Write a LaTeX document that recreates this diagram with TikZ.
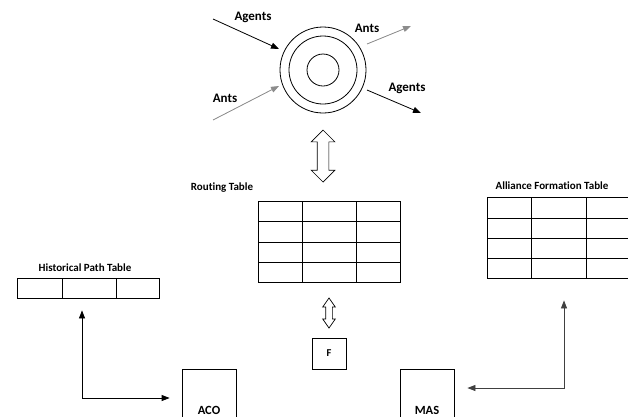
\documentclass[tikz,border=0pt]{standalone}
\usepackage{fontspec}
\setmainfont[Ligatures=NoCommon]{Carlito}
\usetikzlibrary{arrows.meta,shapes.arrows}
\begin{document}
\begin{tikzpicture}[x=1pt,y=-1pt,line width=0.8pt,
	lbl/.style={font=\bfseries\fontsize{13}{15}\selectfont,inner sep=0pt},
	tlbl/.style={font=\bfseries\fontsize{11}{13}\selectfont,inner sep=0pt},
	box/.style={draw,inner sep=0pt,font=\bfseries\fontsize{12.5}{14}\selectfont},
	arr/.style={-{Triangle[length=8pt,width=6pt]}},
	darr/.style={{Triangle[length=8pt,width=6pt]}-{Triangle[length=8pt,width=6pt]}},
	dblarr/.style={draw,double arrow,rotate=90,line width=0.7pt,double arrow head indent=0pt}]
	\useasboundingbox (0,0) rectangle (628,416);
	\def\grycol{black!45}
	% rings
	\node[circle,draw,minimum size=86pt,inner sep=0pt] (outer) at (323,70) {};
	\node[circle,draw,minimum size=68pt,inner sep=0pt] (mid) at (323,70) {};
	\node[circle,draw,minimum size=32pt,inner sep=0pt] (inner) at (323,70) {};
	\coordinate (agA) at (213,19);  \coordinate (agB) at (279,49);
	\coordinate (anA) at (213,120); \coordinate (anB) at (279,86);
	\coordinate (anC) at (367,44);  \coordinate (anD) at (411,26);
	\coordinate (agC) at (367,90);  \coordinate (agD) at (421,113);
	\draw[arr] (agA) -- (agB);
	\draw[arr,draw=\grycol,fill=\grycol] (anA) -- (anB);
	\draw[arr,draw=\grycol,fill=\grycol] (anC) -- (anD);
	\draw[arr] (agC) -- (agD);
	\node[lbl] at (253,17) {Agents};
	\node[lbl] at (367,28) {Ants};
	\node[lbl] at (407,88) {Agents};
	\node[lbl] at (225,98) {Ants};
	% routing table
	\node[dblarr,minimum height=52pt,inner sep=5.5pt,double arrow head extend=6pt] (bigarr) at (323,156) {};
	\node[tlbl] at (222,188) {Routing Table};
	\node[box,minimum width=142pt,minimum height=81pt] (rt) at (329,241.5) {};
	\foreach \x in {302,356} \draw (\x,201) -- (\x,282);
	\foreach \y in {221,242,262} \draw (258,\y) -- (400,\y);
	% alliance formation table
	\node[tlbl] at (552,186) {Alliance Formation Table};
	\node[box,minimum width=153pt,minimum height=81pt] (aft) at (563.5,237.5) {};
	\foreach \x in {531,586} \draw (\x,197) -- (\x,278);
	\foreach \y in {218,238,258} \draw (487,\y) -- (640,\y);
	% historical path table
	\node[tlbl] at (85,268) {Historical Path Table};
	\node[box,minimum width=142pt,minimum height=20pt] (hpt) at (88,288) {};
	\foreach \x in {62,116} \draw (\x,278) -- (\x,298);
	% F, ACO, MAS
	\node[dblarr,minimum height=30pt,inner sep=3pt,double arrow head extend=3pt,double arrow tip angle=70] (smallarr) at (329,313) {};
	\node[box,minimum width=34pt,minimum height=31pt,font=\bfseries\fontsize{10.5}{12}\selectfont] (f) at (329,353.5) {F};
	\node[box,minimum width=54pt,minimum height=82pt] (aco) at (209,410) {ACO};
	\node[box,minimum width=54pt,minimum height=82pt] (mas) at (427,410) {MAS};
	\coordinate (hcor) at (82,398);
	\coordinate (mcor) at (564,388);
	\draw[darr] ([yshift=-12pt]hpt.south -| hcor) -- (hcor) -- ([xshift=-12pt]aco.west |- hcor);
	\draw[darr,black!75] ([yshift=-22pt]aft.south -| mcor) -- (mcor) -- ([xshift=13pt]mas.east |- mcor);
\end{tikzpicture}
\end{document}
